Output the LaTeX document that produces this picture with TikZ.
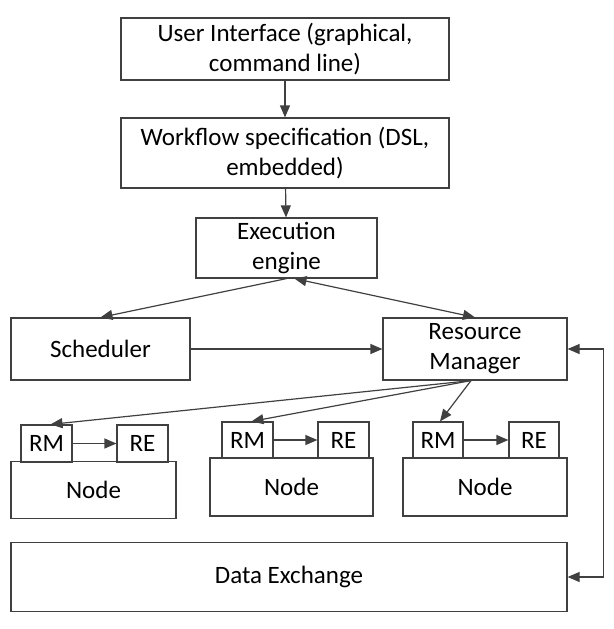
\documentclass[tikz,border=0pt]{standalone}
\usepackage{fontspec}
\setmainfont{Carlito}
\usetikzlibrary{arrows.meta}

\tikzset{
	box/.style={draw=black!75, line width=1.2pt, align=center, inner sep=1pt,
		font=\fontsize{25}{30}\selectfont},
	link/.style={draw=black!75, line width=1.2pt, -{Triangle[length=12pt,width=10pt]}},
}

\begin{document}
\begin{tikzpicture}[x=1pt, y=-1pt]
			\useasboundingbox (0,0) rectangle (613,629);
			% top of the stack
			\node[box, minimum width=328, minimum height=62] (ui) at (285,49) {User Interface (graphical,\\command line)};
			\node[box, minimum width=328, minimum height=70] (wf) at (285,153) {Workflow specification (DSL,\\embedded)};
			\node[box, minimum width=181, minimum height=60] (ee) at (286.5,248) {Execution\\engine};
			\node[box, minimum width=179, minimum height=62] (sched) at (100.5,349) {Scheduler};
			\node[box, minimum width=184, minimum height=62] (rm) at (475,349) {Resource\\Manager};
			% the nodes
			\node[box, minimum width=165, minimum height=57] (node1) at (93.5,490) {Node};
			\node[box, minimum width=51, minimum height=37] (rm1) at (46.5,443.5) {RM};
			\node[box, minimum width=51, minimum height=37] (re1) at (142.5,443.5) {RE};
			\node[box, minimum width=163, minimum height=58] (node2) at (291.5,487) {Node};
			\node[box, minimum width=51, minimum height=36] (rm2) at (247.5,440) {RM};
			\node[box, minimum width=51, minimum height=36] (re2) at (343.5,440) {RE};
			\node[box, minimum width=164, minimum height=58] (node3) at (485,487) {Node};
			\node[box, minimum width=50, minimum height=36] (rm3) at (438,440) {RM};
			\node[box, minimum width=50, minimum height=36] (re3) at (534,440) {RE};
			\node[box, minimum width=556, minimum height=69] (dx) at (289,577) {Data Exchange};
			% connectors
			\draw[link] (ui) -- (wf);
			\draw[link] (wf) -- (ee);
			\draw[link] (ee.south) -- (sched.north);
			\draw[link, {Triangle[length=12pt,width=10pt]}-{Triangle[length=12pt,width=10pt]}] ([xshift=8]ee.south) -- (rm.north);
			\draw[link] (sched) -- (rm);
			\draw[link] ([xshift=-4]rm.south) -- ([xshift=4]rm1.north);
			\draw[link] ([xshift=-4]rm.south) -- ([xshift=4]rm2.north);
			\draw[link] ([xshift=-4]rm.south) -- ([xshift=2]rm3.north);
			\draw[link] (rm1) -- (re1);
			\draw[link] (rm2) -- (re2);
			\draw[link] (rm3) -- (re3);
			\draw[link, {Triangle[length=12pt,width=10pt]}-{Triangle[length=12pt,width=10pt]}] (rm.east) -- ++(36,0) |- (dx.east);
		\end{tikzpicture}
\end{document}
